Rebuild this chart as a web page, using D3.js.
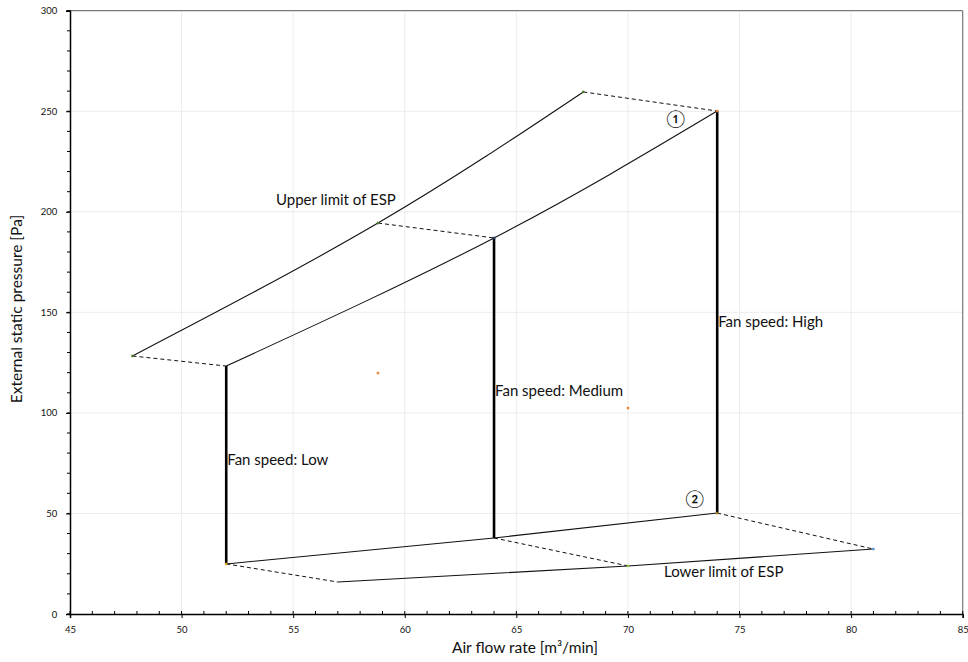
<!DOCTYPE html>
<html><head><meta charset="utf-8">
<script src="https://cdn.jsdelivr.net/npm/d3@7"></script>
<style>
body{margin:0;background:#fff;}
text{font-family:"Lato","Open Sans",sans-serif;fill:#111;}
</style></head>
<body>
<svg id="c" width="968" height="662"></svg>
<script>
// Data
const upperLimitX = [47.8, 58.8, 68.0];
const upperLimitY = [128.3, 194.4, 259.6];
const ratedUpperX = [52, 64, 74];
const ratedUpperY = [123.3, 187.0, 250.1];
const ratedLowerX = [52, 64, 74];
const ratedLowerY = [24.9, 37.8, 50.2];
const lowerLimitX = [57.0, 70.0, 81.0];
const lowerLimitY = [15.9, 23.9, 32.3];
const fanLabels = ["Fan speed: Low", "Fan speed: Medium", "Fan speed: High"];
const fanLabelY = [76.5, 111, 145];
const markerX = [58.8, 70.0];
const markerY = [119.8, 102.4];
const xTicks = [45, 50, 55, 60, 65, 70, 75, 80, 85];
const yTicks = [0, 50, 100, 150, 200, 250, 300];

const svg = d3.select("#c");
const L = 70, R = 962.7, T = 10.7, B = 614;
const x = d3.scaleLinear().domain([45, 85]).range([L, R]);
const y = d3.scaleLinear().domain([0, 300]).range([B, T]);

// gridlines
const g = svg.append("g");
g.selectAll(".vg").data(xTicks.filter(d => d > 45 && d < 85)).enter().append("line")
  .attr("x1", d => x(d)).attr("x2", d => x(d)).attr("y1", T).attr("y2", B)
  .attr("stroke", "#ececec").attr("stroke-width", 1);
g.selectAll(".hg").data(yTicks.filter(d => d > 0 && d < 300)).enter().append("line")
  .attr("y1", d => y(d)).attr("y2", d => y(d)).attr("x1", L).attr("x2", R)
  .attr("stroke", "#ececec").attr("stroke-width", 1);

// frame top/right
svg.append("line").attr("x1", L).attr("x2", R).attr("y1", T).attr("y2", T).attr("stroke", "#777").attr("stroke-width", 1.2);
svg.append("line").attr("x1", R).attr("x2", R).attr("y1", T).attr("y2", B).attr("stroke", "#777").attr("stroke-width", 1.2);

// axes
const xAxis = d3.axisBottom(x).tickValues(xTicks).tickSize(4).tickFormat(d3.format("d"));
const xg = svg.append("g").attr("transform", `translate(0,${B})`).call(xAxis);
const xMinor = d3.range(45, 86, 1);
xg.selectAll(".minor").data(xMinor).enter().append("line").attr("class", "minor")
  .attr("x1", d => x(d)).attr("x2", d => x(d)).attr("y1", -3).attr("y2", 0).attr("stroke", "#000");
const yAxis = d3.axisLeft(y).tickValues(yTicks).tickSize(4).tickFormat(d3.format("d"));
const yg = svg.append("g").attr("transform", `translate(${L},0)`).call(yAxis);
const yMinor = d3.range(0, 301, 10);
yg.selectAll(".minor").data(yMinor).enter().append("line").attr("class", "minor")
  .attr("y1", d => y(d)).attr("y2", d => y(d)).attr("x1", -3).attr("x2", 0).attr("stroke", "#000");
[xg, yg].forEach(a => {
  a.select(".domain").attr("stroke", "#000").attr("stroke-width", 1.5);
  a.selectAll(".tick line").attr("stroke", "#000");
  a.selectAll(".tick text").attr("font-size", 9.5).attr("font-family", "Lato, sans-serif").attr("fill", "#333");
});
xg.selectAll(".tick text").attr("dy", "1.25em");
yg.selectAll(".tick text").attr("dx", "-0.6em");

// axis titles
svg.append("text").attr("x", 525).attr("y", 653).attr("text-anchor", "middle")
  .attr("font-size", 15.5).text("Air flow rate [m³/min]");
svg.append("text").attr("transform", `translate(22,309) rotate(-90)`).attr("text-anchor", "middle")
  .attr("font-size", 15.5).text("External static pressure [Pa]");

// curves
const line = d3.line().x(d => x(d[0])).y(d => y(d[1])).curve(d3.curveNatural);
function curve(xs, ys) {
  svg.append("path").attr("d", line(xs.map((v, i) => [v, ys[i]])))
    .attr("fill", "none").attr("stroke", "#111").attr("stroke-width", 1.1);
}
curve(upperLimitX, upperLimitY);
curve(ratedUpperX, ratedUpperY);
curve(ratedLowerX, ratedLowerY);
curve(lowerLimitX, lowerLimitY);

// dashed connectors
for (let i = 0; i < 3; i++) {
  svg.append("line").attr("x1", x(upperLimitX[i])).attr("y1", y(upperLimitY[i]))
    .attr("x2", x(ratedUpperX[i])).attr("y2", y(ratedUpperY[i]))
    .attr("stroke", "#111").attr("stroke-width", 1).attr("stroke-dasharray", "4,3");
  svg.append("line").attr("x1", x(ratedLowerX[i])).attr("y1", y(ratedLowerY[i]))
    .attr("x2", x(lowerLimitX[i])).attr("y2", y(lowerLimitY[i]))
    .attr("stroke", "#111").attr("stroke-width", 1).attr("stroke-dasharray", "4,3");
  // vertical fan speed lines
  svg.append("line").attr("x1", x(ratedUpperX[i])).attr("y1", y(ratedUpperY[i]))
    .attr("x2", x(ratedLowerX[i])).attr("y2", y(ratedLowerY[i]))
    .attr("stroke", "#000").attr("stroke-width", 2.6);
}

// tiny markers
const mk = (xv, yv, c) => svg.append("rect").attr("x", x(xv) - 1.2).attr("y", y(yv) - 1.2)
  .attr("width", 2.4).attr("height", 2.4).attr("fill", c);
upperLimitX.forEach((v, i) => mk(v, upperLimitY[i], "#4a7a2a"));
mk(ratedUpperX[2], ratedUpperY[2], "#e07b39");
mk(ratedUpperX[1], ratedUpperY[1], "#2a3a6a");
mk(ratedLowerX[0], ratedLowerY[0], "#e0a020");
mk(ratedLowerX[2], ratedLowerY[2], "#9a7a20");
mk(lowerLimitX[1], lowerLimitY[1], "#90c040");
mk(lowerLimitX[2], lowerLimitY[2], "#5b9bd5");
markerX.forEach((v, i) => mk(v, markerY[i], "#f08030"));

// labels
svg.append("text").attr("x", 276).attr("y", 205).attr("font-size", 15).text("Upper limit of ESP");
svg.append("text").attr("x", 664).attr("y", 577).attr("font-size", 15).text("Lower limit of ESP");
fanLabels.forEach((t, i) => {
  svg.append("text").attr("x", x(ratedUpperX[i]) + 1).attr("y", y(fanLabelY[i]) + 5)
    .attr("font-size", 15).text(t);
});
svg.append("text").attr("x", 676).attr("y", 125).attr("text-anchor", "middle").attr("font-size", 17)
  .attr("font-family", "Noto Sans CJK JP, sans-serif").attr("fill", "#333").text("①");
svg.append("text").attr("x", 695).attr("y", 505).attr("text-anchor", "middle").attr("font-size", 17)
  .attr("font-family", "Noto Sans CJK JP, sans-serif").attr("fill", "#333").text("②");
</script>
</body></html>
